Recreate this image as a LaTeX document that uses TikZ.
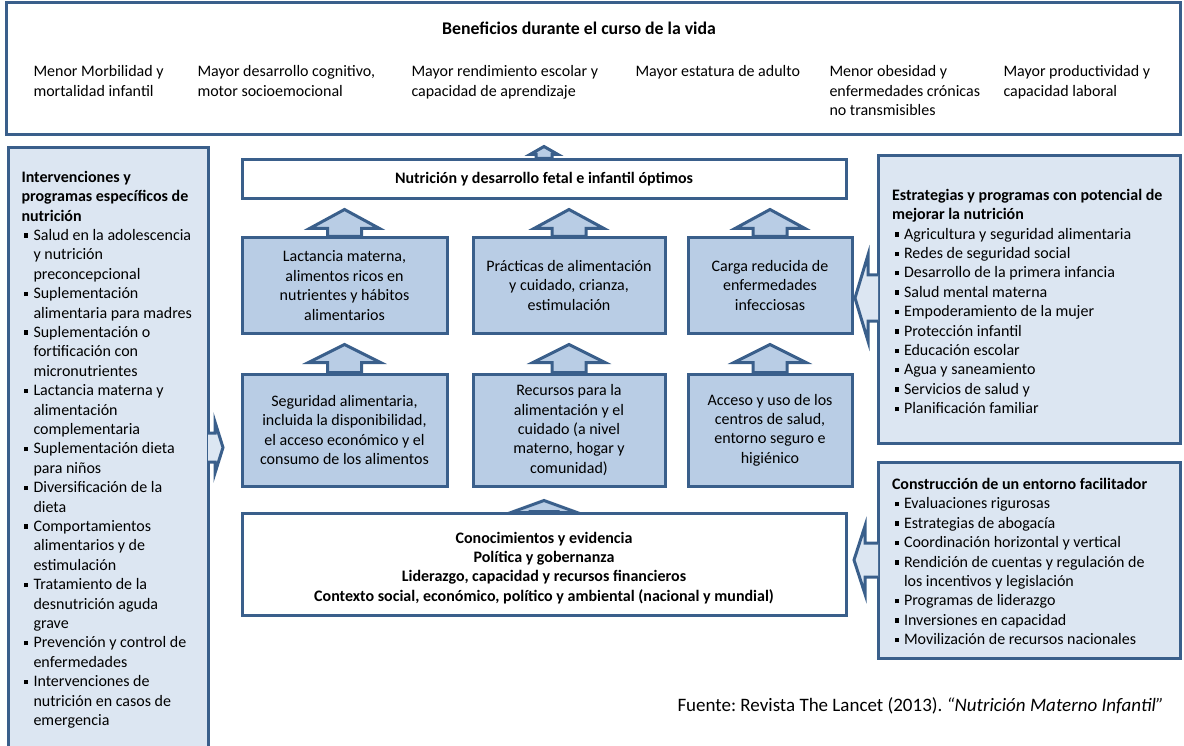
\documentclass[tikz,border=0pt]{standalone}
\usepackage{fontspec}
\setmainfont{Carlito}
\usetikzlibrary{positioning,calc}

\definecolor{frameblue}{HTML}{3A5F8B}
\definecolor{panelblue}{HTML}{DCE6F2}
\definecolor{boxblue}{HTML}{B9CDE5}

\newcommand{\sqb}{\makebox[12pt][l]{\hspace{2.5pt}\rule[2.5pt]{4.5pt}{4.5pt}}}
\newcommand{\sqi}{\hspace*{12pt}}

\begin{document}
\begin{tikzpicture}[x=1pt,y=-1pt,line width=3pt,
    font=\fontsize{16}{19.4}\selectfont,
    frame/.style={draw=frameblue,fill=white,inner sep=0pt},
    panel/.style={draw=frameblue,fill=panelblue,inner sep=0pt},
    midbox/.style={draw=frameblue,fill=boxblue,align=center,inner sep=0pt},
    txt/.style={align=left,inner sep=0pt},
    upblock/.style={draw=frameblue,fill=boxblue},
    sideblock/.style={draw=frameblue,fill=panelblue},
    vblk/.style n args={3}{to path={($(\tikztostart)+(-#1,0)$) -- ($(\tikztotarget)+(-#1,#3)$)
        -- ($(\tikztotarget)+(-#2,#3)$) -- (\tikztotarget) -- ($(\tikztotarget)+(#2,#3)$)
        -- ($(\tikztotarget)+(#1,#3)$) -- ($(\tikztostart)+(#1,0)$) -- cycle}},
    hblk/.style n args={3}{to path={($(\tikztostart)+(0,-#1)$) -- ($(\tikztotarget)+(#3,-#1)$)
        -- ($(\tikztotarget)+(#3,-#2)$) -- (\tikztotarget) -- ($(\tikztotarget)+(#3,#2)$)
        -- ($(\tikztotarget)+(#3,#1)$) -- ($(\tikztostart)+(0,#1)$)}}]
  \useasboundingbox (0,0) rectangle (1184,746);

  % beneficios
  \node[frame,minimum width=1174,minimum height=132] (bene) at (593,69) {};
  \node[font=\fontsize{17.8}{21}\selectfont\bfseries] (beneT) at (579,28)
    {Beneficios durante el curso de la vida};
  \node[txt,anchor=north west] (b1) at (32,64) {Menor Morbilidad y\\mortalidad infantil};
  \node[txt,anchor=north west] (b2) at (196,64) {Mayor desarrollo cognitivo,\\motor socioemocional};
  \node[txt,anchor=north west] (b3) at (410,64) {Mayor rendimiento escolar y\\capacidad de aprendizaje};
  \node[txt,anchor=north west] (b4) at (634,64) {Mayor estatura de adulto};
  \node[txt,anchor=north west] (b5) at (828,64) {Menor obesidad y\\enfermedades crónicas\\no transmisibles};
  \node[txt,anchor=north west] (b6) at (1002,64) {Mayor productividad y\\capacidad laboral};

  % panels
  \node[panel,minimum width=200,minimum height=604] (interv) at (108,450) {};
  \node[txt,anchor=north west] (intervT) at (20,169.5) {\textbf{Intervenciones y}\\
    \textbf{programas específicos de}\\\textbf{nutrición}\\
    \sqb Salud en la adolescencia\\\sqi y nutrición\\\sqi preconcepcional\\
    \sqb Suplementación\\\sqi alimentaria para madres\\
    \sqb Suplementación o\\\sqi fortificación con\\\sqi micronutrientes\\
    \sqb Lactancia materna y\\\sqi alimentación\\\sqi complementaria\\
    \sqb Suplementación dieta\\\sqi para niños\\
    \sqb Diversificación de la\\\sqi dieta\\
    \sqb Comportamientos\\\sqi alimentarios y de\\\sqi estimulación\\
    \sqb Tratamiento de la\\\sqi desnutrición aguda\\\sqi grave\\
    \sqb Prevención y control de\\\sqi enfermedades\\
    \sqb Intervenciones de\\\sqi nutrición en casos de\\\sqi emergencia};
  \node[panel,minimum width=302,minimum height=287] (strat) at (1029,299.5) {};
  \node[txt,anchor=west,yshift=-2pt] (stratT) [right=14pt of strat.west] {%
    \textbf{Estrategias y programas con potencial de}\\\textbf{mejorar la nutrición}\\
    \sqb Agricultura y seguridad alimentaria\\\sqb Redes de seguridad social\\
    \sqb Desarrollo de la primera infancia\\\sqb Salud mental materna\\
    \sqb Empoderamiento de la mujer\\\sqb Protección infantil\\
    \sqb Educación escolar\\\sqb Agua y saneamiento\\
    \sqb Servicios de salud y\\\sqb Planificación familiar};
  \node[panel,minimum width=302,minimum height=196] (enab) at (1029,560) {};
  \node[txt,anchor=west,yshift=-1.5pt] (enabT) [right=14pt of enab.west] {%
    \textbf{Construcción de un entorno facilitador}\\
    \sqb Evaluaciones rigurosas\\\sqb Estrategias de abogacía\\
    \sqb Coordinación horizontal y vertical\\
    \sqb Rendición de cuentas y regulación de\\\sqi los incentivos y legislación\\
    \sqb Programas de liderazgo\\\sqb Inversiones en capacidad\\
    \sqb Movilización de recursos nacionales};

  % central column
  \node[frame,minimum width=604,minimum height=39] (nut) at (544,179.5)
    {\bfseries Nutrición y desarrollo fetal e infantil óptimos};
  \node[midbox,minimum width=205,minimum height=95,anchor=north west] (lact)
    [below right=36pt and 0pt of nut.south west]
    {Lactancia materna,\\alimentos ricos en\\nutrientes y hábitos\\alimentarios};
  \node[midbox,minimum width=192,minimum height=95] (prac) [right=23pt of lact]
    {Prácticas de alimentación\\y cuidado, crianza,\\estimulación};
  \node[midbox,minimum width=164,minimum height=95] (carga) [right=20pt of prac]
    {Carga reducida de\\enfermedades\\infecciosas};
  \node[midbox,minimum width=205,minimum height=112] (seg) [below=38pt of lact]
    {Seguridad alimentaria,\\incluida la disponibilidad,\\el acceso económico y el\\consumo de los alimentos};
  \node[midbox,minimum width=192,minimum height=112] (res) [below=38pt of prac]
    {Recursos para la\\alimentación y el\\cuidado (a nivel\\materno, hogar y\\comunidad)};
  \node[midbox,minimum width=164,minimum height=112] (acc) [below=38pt of carga]
    {Acceso y uso de los\\centros de salud,\\entorno seguro e\\higiénico};
  \node[frame,minimum width=604,minimum height=102,align=center,
        font=\fontsize{16}{19.2}\selectfont\bfseries] (ctx) at (544,564)
    {\rule{0pt}{19pt}Conocimientos y evidencia\\Política y gobernanza\\
     Liderazgo, capacidad y recursos financieros\\
     Contexto social, económico, político y ambiental (nacional y mundial)};

  % block arrows
  \draw[upblock] (nut.north) to[vblk={8}{14}{8}] ($(nut.north |- bene.south)+(0,10)$);
  \draw[upblock] (lact.north) to[vblk={17}{35}{19}] ($(lact.north |- nut.south)+(0,9)$);
  \draw[upblock] (prac.north) to[vblk={17}{35}{19}] ($(prac.north |- nut.south)+(0,9)$);
  \draw[upblock] (carga.north) to[vblk={17}{35}{19}] ($(carga.north |- nut.south)+(0,9)$);
  \draw[upblock] (seg.north) to[vblk={17}{36}{18}] ($(seg.north |- lact.south)+(0,10)$);
  \draw[upblock] (res.north) to[vblk={17}{36}{18}] ($(res.north |- prac.south)+(0,10)$);
  \draw[upblock] (acc.north) to[vblk={17}{36}{18}] ($(acc.north |- carga.south)+(0,10)$);
  \draw[upblock] (ctx.north) to[vblk={14}{33}{12}] ($(ctx.north |- res.south)+(0,13)$);

  \coordinate (tipL) at (223,447.5);
  \coordinate (tipS) at (855,298);
  \coordinate (tipE) at (854,560);
  \draw[sideblock] ($(interv.east |- tipL)+(-1.5,0)$) to[hblk={14.5}{25.5}{-8}] (tipL);
  \draw[sideblock] ($(strat.west |- tipS)+(1.5,0)$) to[hblk={23}{43}{13}] (tipS);
  \draw[sideblock] ($(enab.west |- tipE)+(1.5,0)$) to[hblk={17}{34}{11}] (tipE);

  \node[txt,anchor=west,font=\fontsize{19}{22}\selectfont\frenchspacing] (src) at (676,706)
    {Fuente: Revista The Lancet (2013). \textit{“Nutrición Materno Infantil”}};
\end{tikzpicture}
\end{document}
